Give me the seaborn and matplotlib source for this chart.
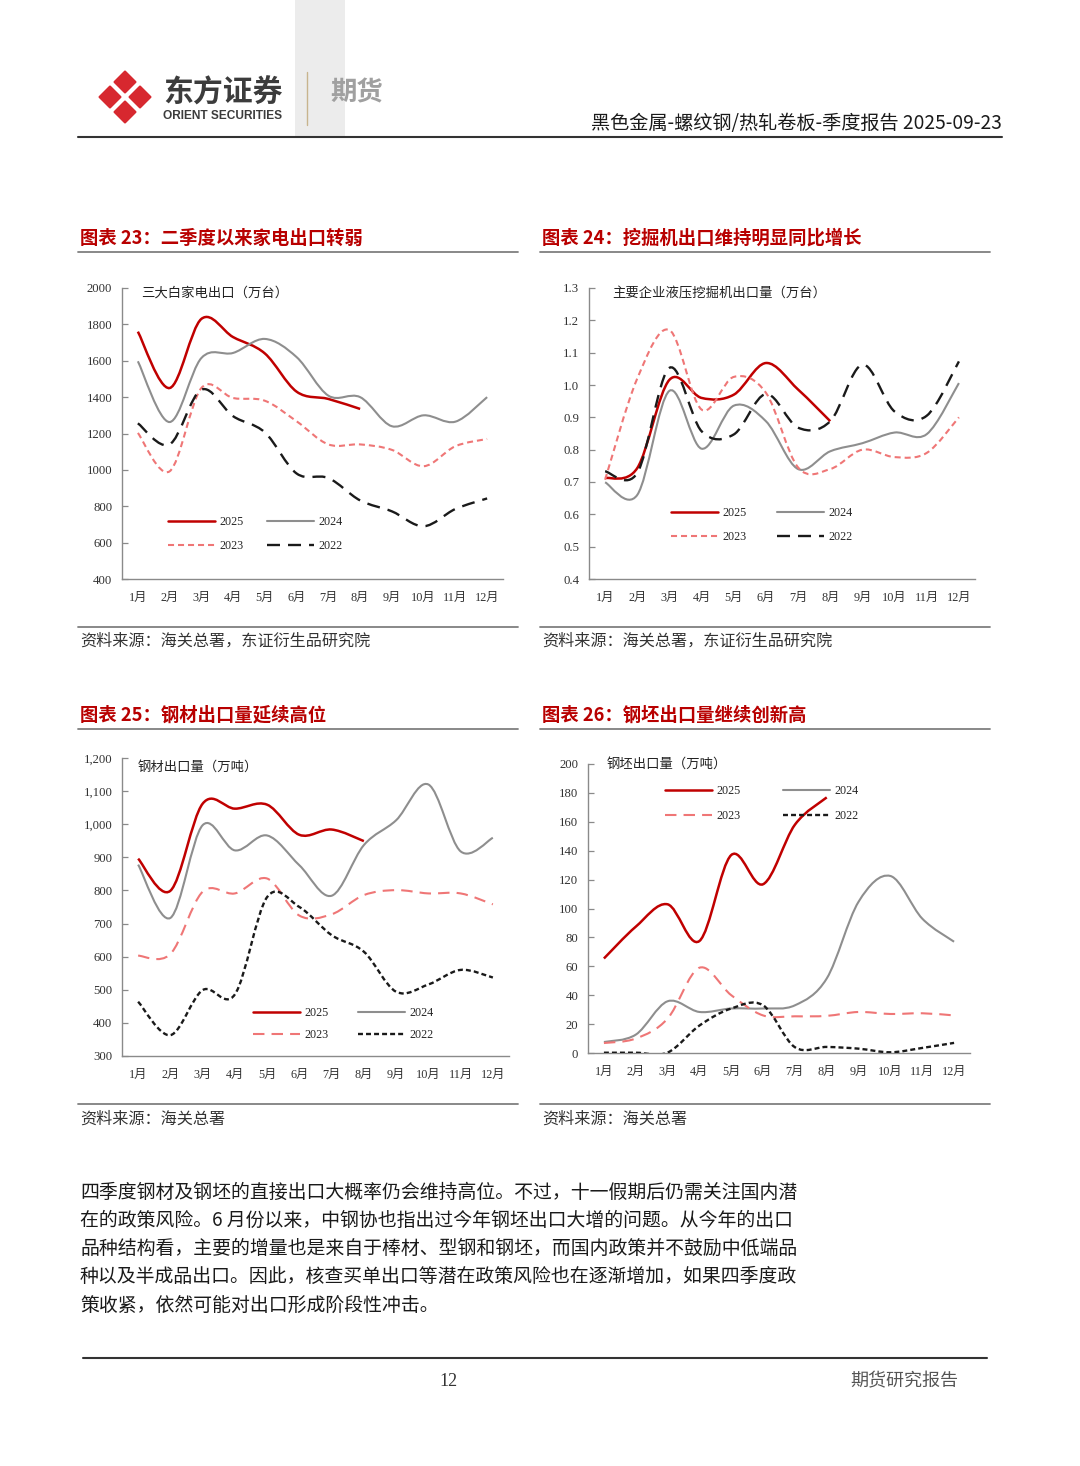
import numpy as np
import pandas as pd
import matplotlib
matplotlib.use("Agg")
import matplotlib.pyplot as plt
from matplotlib.path import Path
from matplotlib.patches import PathPatch, Rectangle, Polygon
from matplotlib.lines import Line2D
from matplotlib.ticker import FuncFormatter
import seaborn as sns

# ---------------- dados ----------------
meses = ['1月', '2月', '3月', '4月', '5月', '6月', '7月', '8月', '9月', '10月', '11月', '12月']
anos = ['2025', '2024', '2023', '2022']

# 图表23 三大白家电出口（万台）
eletro_2025 = [1760, 1450, 1830, 1730, 1640, 1430, 1390, 1335]
eletro_2024 = [1597, 1263, 1615, 1643, 1720, 1620, 1408, 1400, 1240, 1300, 1265, 1400]
eletro_2023 = [1203, 992, 1450, 1395, 1380, 1267, 1140, 1140, 1110, 1020, 1130, 1170]
eletro_2022 = [1256, 1140, 1441, 1295, 1206, 980, 955, 832, 772, 690, 785, 843]

# 图表24 主要企业液压挖掘机出口量（万台）
escav_2025 = [0.712, 0.743, 1.016, 0.960, 0.970, 1.068, 0.986, 0.888]
escav_2024 = [0.699, 0.660, 0.982, 0.803, 0.936, 0.888, 0.740, 0.795, 0.820, 0.853, 0.848, 1.006]
escav_2023 = [0.707, 1.020, 1.170, 0.924, 1.025, 0.976, 0.745, 0.740, 0.800, 0.777, 0.790, 0.900]
escav_2022 = [0.733, 0.728, 1.053, 0.857, 0.847, 0.972, 0.868, 0.888, 1.063, 0.918, 0.905, 1.073]

# 图表25 钢材出口量（万吨）
aco_2025 = [896, 799, 1062, 1047, 1059, 968, 984, 949]
aco_2024 = [878, 717, 997, 921, 966, 876, 784, 937, 1012, 1120, 918, 959]
aco_2023 = [603, 608, 796, 791, 836, 724, 728, 786, 801, 791, 791, 758]
aco_2022 = [464, 363, 499, 486, 780, 750, 665, 615, 494, 516, 560, 537]

# 图表26 钢坯出口量（万吨）
tarugo_2025 = [65.4, 87.4, 102.9, 77.5, 137.0, 116.8, 158.0, 176.9]
tarugo_2024 = [7.6, 12.7, 35.8, 28.4, 30.8, 30.8, 33.0, 51.6, 104.7, 122.5, 93.0, 77.0]
tarugo_2023 = [6.9, 10.0, 23.8, 59.0, 40.0, 26.0, 25.4, 25.7, 28.4, 27.0, 27.5, 26.0]
tarugo_2022 = [0.2, 0.2, 0.3, 19.0, 30.8, 33.0, 4.0, 4.2, 3.0, 0.5, 3.5, 7.0]

texto = [
    "四季度钢材及钢坯的直接出口大概率仍会维持高位。不过，十一假期后仍需关注国内潜",
    "在的政策风险。6 月份以来，中钢协也指出过今年钢坯出口大增的问题。从今年的出口",
    "品种结构看，主要的增量也是来自于棒材、型钢和钢坯，而国内政策并不鼓励中低端品",
    "种以及半成品出口。因此，核查买单出口等潜在政策风险也在逐渐增加，如果四季度政",
    "策收紧，依然可能对出口形成阶段性冲击。",
]

# ---------------- estilo ----------------
sns.set_theme(style="white")
plt.rcParams['font.family'] = ['Noto Sans CJK SC', 'DejaVu Sans']

VERMELHO = '#C00000'
CINZA = '#8E8E8E'
ROSA = '#EF7676'
PRETO = '#1A1A1A'
EIXO = '#8A8A8A'
SERIF = ['Liberation Serif', 'Noto Sans CJK SC']

curto = (0, (2.9, 1.9))
longo = (0, (5.5, 3.4))
pontilhado = (0, (2.1, 1.3))


def curva_suave(ax, valores, cor, lw, ls):
    """Linha suavizada estilo Excel (Bezier cúbica a partir dos pontos mensais)."""
    pts = np.column_stack([np.arange(len(valores)), np.asarray(valores, float)])
    n = len(pts)
    verts = [pts[0]]
    codes = [Path.MOVETO]
    for i in range(n - 1):
        p0 = pts[i - 1] if i > 0 else pts[i]
        p1, p2 = pts[i], pts[i + 1]
        p3 = pts[i + 2] if i + 2 < n else pts[i + 1]
        verts += [p1 + (p2 - p0) / 6, p2 - (p3 - p1) / 6, p2]
        codes += [Path.CURVE4] * 3
    ax.add_patch(PathPatch(Path(verts, codes), fill=False, edgecolor=cor,
                           lw=lw, linestyle=ls, capstyle='butt', zorder=3))


def montar_grafico(ax, series, estilos, ylim, passo, fmt, rotulo, leg_pos, colsp, labsp):
    for valores, (cor, lw, ls) in zip(series, estilos):
        curva_suave(ax, valores, cor, lw, ls)

    ax.set_facecolor('none')
    ax.set_xlim(-0.5, 11.5)
    ax.set_ylim(*ylim)
    ax.set_yticks(np.arange(ylim[0], ylim[1] + passo / 2, passo))
    ax.yaxis.set_major_formatter(FuncFormatter(fmt))
    ax.set_xticks(np.arange(-0.5, 12, 1))
    ax.set_xticklabels([])
    ax.set_xticks(np.arange(12), minor=True)
    ax.set_xticklabels(meses, minor=True)
    ax.tick_params(axis='x', which='major', direction='in', length=4, width=0.9, color=EIXO)
    ax.tick_params(axis='x', which='minor', length=0, pad=9, labelsize=8.8, labelcolor='#333333')
    ax.tick_params(axis='y', direction='in', length=4, width=0.9, color=EIXO, pad=7,
                   labelsize=9.2, labelcolor='#333333', left=True)
    for lab in ax.get_xticklabels(minor=True) + ax.get_yticklabels():
        lab.set_family(SERIF)
    sns.despine(ax=ax)
    for s in ['left', 'bottom']:
        ax.spines[s].set_color(EIXO)
        ax.spines[s].set_linewidth(1.0)
    ax.grid(False)

    ax.text(rotulo[0], rotulo[1], rotulo[2], transform=ax.transAxes, fontsize=9.6,
            color='#222222', ha='left', va='center')

    handles = [Line2D([], [], color=c, lw=w, linestyle=l) for c, w, l in estilos]
    ordem = [0, 2, 1, 3]
    ax.legend([handles[i] for i in ordem], [anos[i] for i in ordem], ncol=2,
              loc='upper left', bbox_to_anchor=leg_pos, frameon=False,
              handlelength=3.9, handletextpad=0.35, columnspacing=colsp,
              labelspacing=labsp, borderpad=0, borderaxespad=0,
              prop={'family': SERIF, 'size': 8.7})


fig = plt.figure(figsize=(10.8, 14.66), dpi=100)
W, H = 1080, 1466

# camada de decoração em coordenadas de pixel
bg = fig.add_axes([0, 0, 1, 1], zorder=0)
bg.set_xlim(0, W)
bg.set_ylim(H, 0)
bg.axis('off')


def eixo(x0, y0, x1, y1):
    return fig.add_axes([x0 / W, 1 - y1 / H, (x1 - x0) / W, (y1 - y0) / H], zorder=1)


# ---------------- cabeçalho ----------------
bg.add_patch(Rectangle((295, 0), 50, 137, color='#ECECEC', lw=0))
bg.plot([307, 307], [72, 125], color='#C8B48E', lw=1.0)
for cx, cy in [(125, 82), (110, 97), (140, 97), (125, 112)]:
    r = 10.5
    bg.add_patch(Polygon([(cx, cy - r), (cx + r, cy), (cx, cy + r), (cx - r, cy)],
                         closed=True, facecolor='#D7282F', edgecolor='#D7282F',
                         lw=1.5, joinstyle='round'))
bg.text(163, 93, '东方证券', fontsize=21.5, fontweight='bold', color='#3C3C3C', ha='left', va='center')
bg.text(163, 116, 'ORIENT SECURITIES', fontsize=8.6, fontweight='bold', color='#3C3C3C',
        ha='left', va='center', family=['Liberation Sans', 'DejaVu Sans'])
bg.text(330, 93, '期货', fontsize=19, fontweight='bold', color='#A0A0A0', ha='left', va='center')
bg.text(1002, 124, '黑色金属-螺纹钢/热轧卷板-季度报告 2025-09-23', fontsize=13.8,
        color='#1A1A1A', ha='right', va='center')
bg.plot([78, 1002], [137, 137], color='#333333', lw=1.5)

# ---------------- títulos e fontes ----------------
titulos = [(80, 238, '图表 23：二季度以来家电出口转弱'), (542, 238, '图表 24：挖掘机出口维持明显同比增长'),
           (80, 715, '图表 25：钢材出口量延续高位'), (542, 715, '图表 26：钢坯出口量继续创新高')]
for x, y, t in titulos:
    bg.text(x, y, t, fontsize=13.2, fontweight='bold', color='#B80000', ha='left', va='center')

for y in [252, 627, 729, 1104]:
    bg.plot([78, 518], [y, y], color='#7F7F7F', lw=1.3)
    bg.plot([540, 990], [y, y], color='#7F7F7F', lw=1.3)

fonte_a = '资料来源：海关总署，东证衍生品研究院'
fonte_b = '资料来源：海关总署'
for x, y, t in [(80, 641, fonte_a), (542, 641, fonte_a), (80, 1119, fonte_b), (542, 1119, fonte_b)]:
    bg.text(x, y, t, fontsize=11.6, color='#333333', ha='left', va='center')

# ---------------- gráficos ----------------
est_a = [(VERMELHO, 1.8, '-'), (CINZA, 1.5, '-'), (ROSA, 1.5, curto), (PRETO, 1.7, longo)]
est_b = [(VERMELHO, 1.8, '-'), (CINZA, 1.5, '-'), (ROSA, 1.5, longo), (PRETO, 1.7, pontilhado)]

ax1 = eixo(122, 288, 503, 579)
montar_grafico(ax1, [eletro_2025, eletro_2024, eletro_2023, eletro_2022], est_a,
               (400, 2000), 200, lambda v, p: f'{v:.0f}',
               (0.05, 0.985, '三大白家电出口（万台）'), (0.121, 0.216), 1.95, 1.0)

ax2 = eixo(589, 288, 975, 579)
montar_grafico(ax2, [escav_2025, escav_2024, escav_2023, escav_2022], est_a,
               (0.4, 1.3), 0.1, lambda v, p: f'{v:.1f}',
               (0.06, 0.98, '主要企业液压挖掘机出口量（万台）'), (0.212, 0.247), 2.5, 1.0)

ax3 = eixo(122, 758, 509, 1056)
montar_grafico(ax3, [aco_2025, aco_2024, aco_2023, aco_2022], est_b,
               (300, 1200), 100, lambda v, p: f'{v:,.0f}',
               (0.04, 0.97, '钢材出口量（万吨）'), (0.339, 0.164), 2.4, 0.8)

ax4 = eixo(588, 764, 970, 1053)
montar_grafico(ax4, [tarugo_2025, tarugo_2024, tarugo_2023, tarugo_2022], est_b,
               (0, 200), 20, lambda v, p: f'{v:.0f}',
               (0.05, 1.0, '钢坯出口量（万吨）'), (0.202, 0.927), 3.5, 1.05)

# ---------------- texto corrido ----------------
for i, linha in enumerate(texto):
    bg.text(80, 1192 + i * 28.3, linha, fontsize=13.6, color='#1A1A1A', ha='left', va='center')

# ---------------- rodapé ----------------
bg.plot([83, 987], [1358, 1358], color='#333333', lw=1.5)
bg.text(448, 1381, '12', fontsize=13, color='#333333', ha='center', va='center',
        family=['Liberation Serif'])
bg.text(850, 1381, '期货研究报告', fontsize=13, color='#555555', ha='left', va='center')

fig.savefig('out.png', dpi=100)
